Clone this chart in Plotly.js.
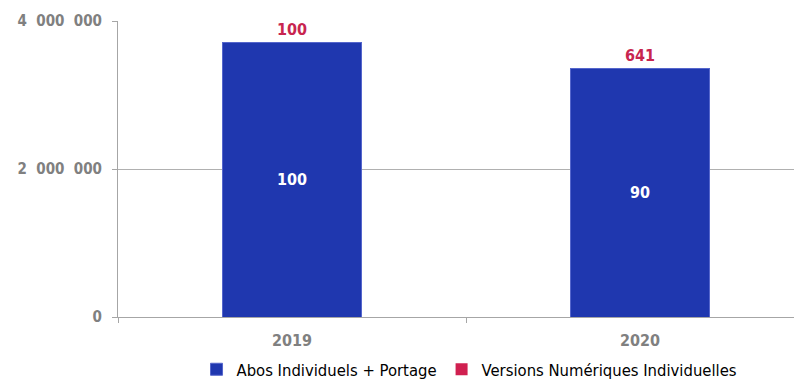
<!DOCTYPE html>
<html>
<head>
<meta charset="utf-8">
<script src="https://cdn.plot.ly/plotly-3.0.1.min.js"></script>
<style>html,body{margin:0;padding:0;background:#fff;}#chart{width:794px;height:379px;}</style>
</head>
<body>
<div id="chart"></div>
<script>
const years = ['2019', '2020'];
const abosValues = [3716000, 3360000];
const numeriqueValues = [1600, 10256];
const abosIndex = ['100', '90'];
const numeriqueIndex = ['100', '641'];
const yTicks = [0, 2000000, 4000000];
const yTickLabels = ['0', '2  000  000', '4  000  000'];
const seriesNames = ['Abos Individuels + Portage', 'Versions Numériques Individuelles'];

const font = '"DejaVu Sans Condensed", "Liberation Sans Narrow", "Liberation Sans", Arial, sans-serif';

const traces = [
  {
    type: 'bar', name: seriesNames[0], x: years, y: abosValues,
    text: abosIndex, texttemplate: '%{text}', textposition: 'inside',
    insidetextanchor: 'middle', constraintext: 'none',
    textfont: {family: font, size: 16, color: '#ffffff', weight: 'bold'},
    marker: {color: '#1F37AF', line: {color: '#5566cc', width: 1}},
    width: 0.4, hoverinfo: 'none'
  },
  {
    type: 'bar', name: seriesNames[1], x: years, y: numeriqueValues,
    text: numeriqueIndex, texttemplate: '%{text}', textposition: 'outside',
    constraintext: 'none', cliponaxis: false,
    textfont: {family: font, size: 16, color: '#C8254F', weight: 'bold'},
    marker: {color: '#D02050'},
    width: 0.4, hoverinfo: 'none'
  }
];

const layout = {
  width: 794, height: 379,
  barmode: 'stack',
  margin: {l: 118, r: 0, t: 21, b: 62},
  paper_bgcolor: '#ffffff', plot_bgcolor: '#ffffff',
  showlegend: true,
  legend: {orientation: 'h', x: 0.52, xanchor: 'center', yref: 'container', y: 0.025, yanchor: 'middle',
           font: {family: font, size: 16.5, color: '#000000'}, itemwidth: 30,
           traceorder: 'normal', bgcolor: 'rgba(0,0,0,0)'},
  xaxis: {
    type: 'category', range: [-0.5, 1.4425], fixedrange: true,
    showline: true, linecolor: '#a6a6a6', linewidth: 1,
    tickson: 'boundaries', ticks: 'outside', ticklen: 5, tickcolor: '#a6a6a6',
    ticklabelstandoff: 9,
    tickfont: {family: font, size: 16, color: '#808080', weight: 'bold'},
    showgrid: false, zeroline: false
  },
  xaxis2: {
    overlaying: 'x', side: 'top', matches: 'x', showline: true, linecolor: '#888888',
    linewidth: 1, showticklabels: false, ticks: '', showgrid: false, zeroline: false
  },
  yaxis: {
    range: [0, 4000000], fixedrange: true,
    tickvals: yTicks, ticktext: yTickLabels,
    showline: true, linecolor: '#a6a6a6', linewidth: 1,
    ticks: 'outside', ticklen: 5, tickcolor: '#a6a6a6',
    ticklabelstandoff: 7,
    tickfont: {family: font, size: 15, color: '#808080', weight: 'bold'},
    showgrid: true, gridcolor: '#b0b0b0', gridwidth: 1, zeroline: false
  }
};

Plotly.newPlot('chart', traces, layout, {staticPlot: true, displayModeBar: false});
</script>
</body>
</html>
